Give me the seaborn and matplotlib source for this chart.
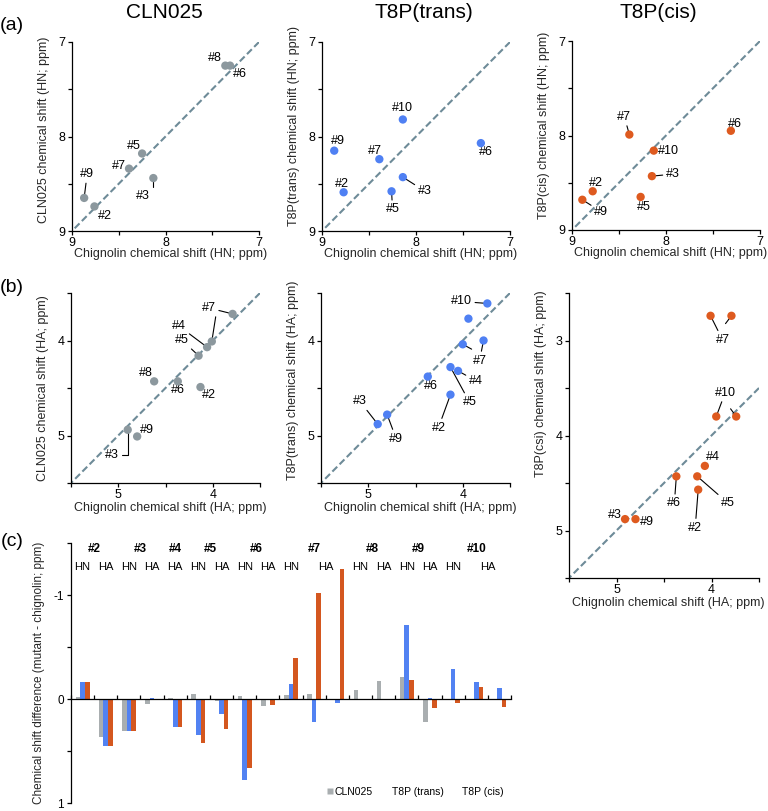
import numpy as np
import pandas as pd
import matplotlib
matplotlib.use('Agg')
import matplotlib.pyplot as plt
import seaborn as sns
from matplotlib.transforms import blended_transform_factory
from matplotlib.lines import Line2D

# ---------------- data ----------------
# (a) backbone amide proton (HN) shifts: chignolin (x) vs mutant (y)
hn_cln_res = ['#2', '#3', '#5', '#6', '#7', '#8', '#9']
hn_cln_chig = [8.76, 8.13, 8.25, 7.31, 8.39, 7.36, 8.87]
hn_cln_mut = [8.74, 8.44, 8.18, 7.25, 8.34, 7.25, 8.65]

hn_trans_res = ['#2', '#3', '#5', '#6', '#7', '#9', '#10']
hn_trans_chig = [8.77, 8.14, 8.26, 7.31, 8.39, 8.87, 8.14]
hn_trans_mut = [8.59, 8.43, 8.58, 8.07, 8.24, 8.15, 7.82]

hn_cis_res = ['#2', '#3', '#5', '#6', '#7', '#9', '#10']
hn_cis_chig = [8.78, 8.15, 8.27, 7.31, 8.39, 8.89, 8.13]
hn_cis_mut = [8.59, 8.43, 8.65, 7.95, 7.99, 8.68, 8.16]

# (b) alpha proton (HA) shifts
ha_cln_res = ['#2', '#3', '#4', '#5', '#6', '#7', '#7', '#8', '#9']
ha_cln_chig = [4.13, 4.90, 4.06, 4.15, 4.37, 4.01, 3.79, 4.62, 4.80]
ha_cln_mut = [4.49, 4.94, 4.07, 4.16, 4.43, 4.01, 3.72, 4.43, 5.01]

ha_trans_res = ['#2', '#3', '#4', '#5', '#6', '#7', '#7', '#9', '#10', '#10']
ha_trans_chig = [4.13, 4.90, 4.05, 4.13, 4.37, 4.00, 3.78, 4.80, 3.94, 3.74]
ha_trans_mut = [4.57, 4.88, 4.32, 4.28, 4.38, 4.04, 4.00, 4.78, 3.77, 3.61]

ha_cis_res = ['#2', '#3', '#4', '#5', '#6', '#7', '#7', '#9', '#10', '#10']
ha_cis_chig = [4.14, 4.91, 4.07, 4.15, 4.37, 4.01, 3.79, 4.80, 3.95, 3.74]
ha_cis_mut = [4.57, 4.88, 4.32, 4.43, 4.43, 2.74, 2.74, 4.88, 3.80, 3.80]

# (c) chemical shift differences (mutant - chignolin)
diff_residue = ['#2', '#2', '#3', '#3', '#4', '#5', '#5', '#6', '#6', '#7', '#7', '#7',
                '#8', '#8', '#9', '#9', '#10', '#10', '#10']
diff_atom = ['HN', 'HA', 'HN', 'HA', 'HA', 'HN', 'HA', 'HN', 'HA', 'HN', 'HA', 'HA',
             'HN', 'HA', 'HN', 'HA', 'HN', 'HA', 'HA']
diff_cln025 = [-0.02, 0.37, 0.31, 0.045, -0.005, -0.05, 0.02, -0.03, 0.07, -0.04, -0.05, 0.01,
               -0.09, -0.17, -0.21, 0.22, np.nan, np.nan, np.nan]
diff_trans = [-0.16, 0.45, 0.31, -0.005, 0.27, 0.35, 0.14, 0.78, np.nan, -0.14, 0.22, 0.04,
              np.nan, np.nan, -0.71, -0.01, -0.29, -0.16, -0.11]
diff_cis = [-0.16, 0.45, 0.31, 0.005, 0.27, 0.42, 0.29, 0.66, 0.06, -0.39, -1.02, -1.25,
            np.nan, np.nan, -0.18, 0.09, 0.04, -0.12, 0.08]
series_names = ['CLN025', 'T8P (trans)', 'T8P (cis)']

# ---------------- style ----------------
sns.set_style('ticks')
plt.rcParams['font.family'] = ['Liberation Sans', 'DejaVu Sans']
plt.rcParams['axes.linewidth'] = 0.9
plt.rcParams['xtick.major.width'] = 0.9
plt.rcParams['ytick.major.width'] = 0.9
plt.rcParams['xtick.major.size'] = 3.0
plt.rcParams['ytick.major.size'] = 3.0
plt.rcParams['xtick.labelsize'] = 9
plt.rcParams['ytick.labelsize'] = 9
plt.rcParams['axes.labelsize'] = 9
plt.rcParams['text.color'] = 'black'
plt.rcParams['xtick.color'] = 'black'
plt.rcParams['ytick.color'] = 'black'
plt.rcParams['axes.edgecolor'] = 'black'

C_GREY = '#8c989e'
C_BLUE = '#4f80f3'
C_ORANGE = '#de5a1f'
BAR_COLORS = ['#a9aeb0', '#5282f2', '#d4571f']
DIAG = '#6e8b98'

W, H = 768, 811
fig = plt.figure(figsize=(W / 100, H / 100), dpi=100)


def add_ax(l, t, r, b):
    return fig.add_axes([l / W, 1 - b / H, (r - l) / W, (b - t) / H])


def scatter_panel(ax, chig, mut, res, color, xlim, ylim, xt, xtl, yt, ytl,
                  xlabel, ylabel, ylab_pos, xlab_off, specs):
    df = pd.DataFrame({'chig': chig, 'mut': mut, 'res': res})
    sns.scatterplot(data=df, x='chig', y='mut', color=color, s=36, edgecolor='none',
                    ax=ax, zorder=3, legend=False)
    ax.axline((xlim[0], xlim[0]), (xlim[1], xlim[1]), color=DIAG, lw=1.5,
              linestyle=(0, (3.3, 1.6)), zorder=1)
    ax.set_xlim(*xlim)
    ax.set_ylim(*ylim)
    ax.set_xticks(xt, xtl)
    ax.set_yticks(yt, ytl)
    ax.tick_params(direction='out', pad=1.5)
    sns.despine(ax=ax)
    wpx = ax.get_position().width * W
    hpx = ax.get_position().height * H
    ax.set_xlabel(xlabel)
    ax.set_ylabel(ylabel)
    ax.xaxis.set_label_coords(0.525, -xlab_off / hpx)
    ax.xaxis.label.set_va('center')
    ax.yaxis.set_label_coords(-28 / wpx, ylab_pos)
    ax.yaxis.label.set_va('center')
    for name, idxs, dx, dy, kind in specs:
        first = idxs[0]
        arrow = None
        if kind != 'none':
            cs = 'angle,angleA=0,angleB=90,rad=0' if kind == 'elbow' else 'arc3'
            arrow = dict(arrowstyle='-', color='black', lw=0.8, shrinkA=0, shrinkB=0,
                         connectionstyle=cs)
        ann = ax.annotate(name, xy=(chig[first], mut[first]), xytext=(dx, dy),
                          textcoords='offset pixels', ha='center', va='center',
                          fontsize=9, arrowprops=arrow, zorder=2)
        for j in idxs[1:]:
            extra = dict(arrow)
            extra['shrinkA'] = 6.5
            ax.annotate('', xy=(chig[j], mut[j]), xytext=(0.5, 0.5), textcoords=ann,
                        arrowprops=extra, zorder=2)


hn_t = [9, 8.5, 8, 7.5, 7]
hn_tl = ['9', '', '8', '', '7']
ha_t = [5.5, 5, 4.5, 4, 3.5]
ha_tl = ['', '5', '', '4', '']
ha6_t = [5.5, 5, 4.5, 4, 3.5, 3, 2.5]
ha6_tl = ['', '5', '', '4', '', '3', '']

# ---- row (a)
ax1 = add_ax(72, 42, 259, 231)
scatter_panel(ax1, hn_cln_chig, hn_cln_mut, hn_cln_res, C_GREY, (9, 7), (9, 7),
              hn_t, hn_tl, hn_t, hn_tl,
              'Chignolin chemical shift (HN; ppm)', 'CLN025 chemical shift (HN; ppm)', 0.536, 23,
              [('#2', [0], 10, -10, 'elbow'), ('#3', [1], -10, -18, 'elbow'),
               ('#5', [2], -8, 8, 'none'), ('#6', [3], 10, -8, 'none'),
               ('#7', [4], -10, 3, 'none'), ('#8', [5], -10, 8, 'none'),
               ('#9', [6], 3, 24, 'line')])

ax2 = add_ax(322, 42, 510, 231)
scatter_panel(ax2, hn_trans_chig, hn_trans_mut, hn_trans_res, C_BLUE, (9, 7), (9, 7),
              hn_t, hn_tl, hn_t, hn_tl,
              'Chignolin chemical shift (HN; ppm)', 'T8P(trans) chemical shift (HN; ppm)', 0.553, 23,
              [('#2', [0], -2, 8, 'none'), ('#3', [1], 22, -14, 'line'),
               ('#5', [2], 1, -18, 'line'), ('#6', [3], 5, -9, 'none'),
               ('#7', [4], -4, 8, 'none'), ('#9', [5], 4, 10, 'none'),
               ('#10', [6], 0, 11, 'none')])

ax3 = add_ax(572, 41, 760, 230)
scatter_panel(ax3, hn_cis_chig, hn_cis_mut, hn_cis_res, C_ORANGE, (9, 7), (9, 7),
              hn_t, hn_tl, hn_t, hn_tl,
              'Chignolin chemical shift (HN; ppm)', 'T8P(cis) chemical shift (HN; ppm)', 0.552, 23,
              [('#2', [0], 3, 8, 'none'), ('#3', [1], 21, 2, 'line'),
               ('#5', [2], 3, -10, 'none'), ('#6', [3], 4, 7, 'none'),
               ('#7', [4], -5, 18, 'line'), ('#9', [5], 19, -12, 'line'),
               ('#10', [6], 15, 0, 'none')])

# ---- row (b)
ax4 = add_ax(71, 293, 260, 483)
scatter_panel(ax4, ha_cln_chig, ha_cln_mut, ha_cln_res, C_GREY, (5.5, 3.5), (5.5, 3.5),
              ha_t, ha_tl, ha_t, ha_tl,
              'Chignolin chemical shift (HA; ppm)', 'CLN025 chemical shift (HA; ppm)', 0.5, 25,
              [('#2', [0], 8, -8, 'none'), ('#3', [1], -16, -25, 'elbow'),
               ('#4', [2], -28, 21, 'line'), ('#5', [3], -17, 16, 'line'),
               ('#6', [4], 0, -9, 'none'), ('#7', [6, 5], -24, 6, 'line'),
               ('#8', [7], -8, 8, 'none'), ('#9', [8], 10, 6, 'none')])

ax5 = add_ax(321, 293, 510, 483)
scatter_panel(ax5, ha_trans_chig, ha_trans_mut, ha_trans_res, C_BLUE, (5.5, 3.5), (5.5, 3.5),
              ha_t, ha_tl, ha_t, ha_tl,
              'Chignolin chemical shift (HA; ppm)', 'T8P(trans) chemical shift (HA; ppm)', 0.538, 25,
              [('#2', [0], -12, -33, 'line'), ('#3', [1], -18, 23, 'line'),
               ('#4', [2], 18, -10, 'line'), ('#5', [3], 19, -35, 'line'),
               ('#6', [4], 3, -9, 'none'), ('#7', [6, 5], -4, -20, 'line'),
               ('#9', [7], 9, -24, 'line'), ('#10', [9], -26, 2, 'line')])

ax6 = add_ax(569, 293, 759, 578)
scatter_panel(ax6, ha_cis_chig, ha_cis_mut, ha_cis_res, C_ORANGE, (5.5, 3.5), (5.5, 2.5),
              ha_t, ha_tl, ha6_t, ha6_tl,
              'Chignolin chemical shift (HA; ppm)', 'T8P(csi) chemical shift (HA; ppm)', 0.683, 25,
              [('#2', [0], -3, -38, 'line'), ('#3', [1], -10, 4, 'none'),
               ('#4', [2], 8, 9, 'none'), ('#5', [3], 31, -27, 'line'),
               ('#6', [4], -2, -27, 'line'), ('#7', [5, 6], 12, -24, 'line'),
               ('#9', [7], 11, -3, 'none'), ('#10', [8, 9], 9, 24, 'line')])

# ---- row (c) bar chart
ax7 = add_ax(71, 543, 511, 803)
slots = [f'{r} {a} {i}' for i, (r, a) in enumerate(zip(diff_residue, diff_atom))]
df_bar = pd.DataFrame({
    'slot': slots * 3,
    'series': [s for s in series_names for _ in slots],
    'value': diff_cln025 + diff_trans + diff_cis,
}).dropna()
sns.barplot(data=df_bar, x='slot', y='value', hue='series', order=slots,
            hue_order=series_names, palette=BAR_COLORS, width=0.6, gap=0,
            errorbar=None, linewidth=0, saturation=1, ax=ax7, legend=False, zorder=2)
ax7.set_xlim(-0.5, len(slots) - 0.5)
ax7.set_ylim(1, -1.5)
ax7.spines['top'].set_visible(False)
ax7.spines['right'].set_visible(False)
ax7.spines['bottom'].set_position(('data', 0))
ax7.spines['bottom'].set_zorder(3)
ax7.set_xticks(np.arange(-0.5, len(slots), 1.0), [''] * (len(slots) + 1))
ax7.tick_params(axis='x', direction='in', length=3)
ax7.set_yticks([-1.5, -1, -0.5, 0, 0.5, 1], ['', '-1', '', '0', '', '1'])
ax7.tick_params(axis='y', direction='out', pad=2, labelsize=8.5)
ax7.set_xlabel('')
ax7.set_ylabel('Chemical shift difference (mutant - chignolin; ppm)', fontsize=8.5)
ax7.yaxis.set_label_coords(-32 / 440, 0.5)
ax7.yaxis.label.set_va('center')

tr = blended_transform_factory(ax7.transData, ax7.transAxes)
seen = []
for r in diff_residue:
    if r not in seen:
        seen.append(r)
for r in seen:
    idx = [i for i, rr in enumerate(diff_residue) if rr == r]
    ax7.text(np.mean(idx), 0.977, r, transform=tr, ha='center', va='center',
             fontsize=8.5, fontweight='bold')
    for atom in ['HN', 'HA']:
        ia = [i for i in idx if diff_atom[i] == atom]
        if ia:
            ax7.text(np.mean(ia), 0.908, atom, transform=tr, ha='center', va='center',
                     fontsize=8)

handles = [Line2D([], [], marker='s', linestyle='none', markerfacecolor=BAR_COLORS[0],
                  markeredgecolor='none', markersize=4.5),
           Line2D([], [], marker='s', linestyle='none', markerfacecolor='none',
                  markeredgecolor='none', markersize=4.5),
           Line2D([], [], marker='s', linestyle='none', markerfacecolor='none',
                  markeredgecolor='none', markersize=4.5)]
ax7.legend(handles, series_names, loc='center right', bbox_to_anchor=(0.984, 0.042),
           ncol=3, frameon=False, fontsize=7.5, handlelength=0.5, handletextpad=0.2,
           columnspacing=1.1, borderpad=0, borderaxespad=0)

# ---- titles and panel letters
fig.text(164 / W, 1 - 12 / H, 'CLN025', fontsize=15, ha='center', va='center')
fig.text(424 / W, 1 - 12 / H, 'T8P(trans)', fontsize=15, ha='center', va='center')
fig.text(658 / W, 1 - 12 / H, 'T8P(cis)', fontsize=15, ha='center', va='center')
fig.text(12 / W, 1 - 25 / H, '(a)', fontsize=14, ha='center', va='center')
fig.text(12 / W, 1 - 287 / H, '(b)', fontsize=14, ha='center', va='center')
fig.text(12 / W, 1 - 541 / H, '(c)', fontsize=14, ha='center', va='center')

fig.savefig('out.png', dpi=100)
